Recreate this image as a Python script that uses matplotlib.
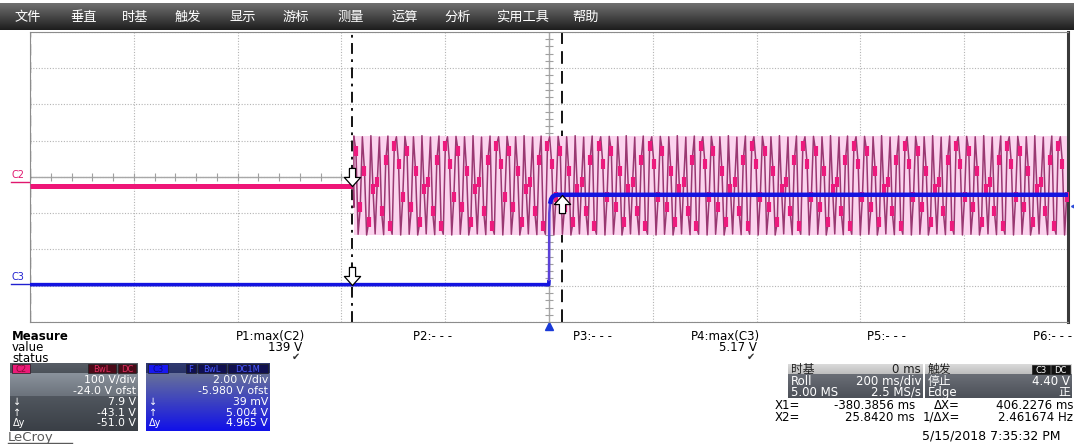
import numpy as np
import matplotlib.pyplot as plt
from matplotlib import transforms
from matplotlib.colors import LinearSegmentedColormap
from matplotlib.patches import Rectangle

plt.rcParams['font.family'] = ['DejaVu Sans', 'Noto Sans CJK SC']

# ---- data ----
menu_items = ['文件', '垂直', '时基', '触发', '显示', '游标', '测量', '运算', '分析', '实用工具', '帮助']

# time in ms (200 ms/div, trigger at centre)
x1_ms = -380.3856
x2_ms = 25.8420

# C2: 100 V/div, -24 V offset
c2_scale = 100.0
c2_ofst = -24.0
c2_flat_t = [-1000, -377]
c2_flat_v = [0, 0]
c2_burst_t0 = -376.0
c2_period_ms = 16.4
# 4 samples per cycle, 6 cycles (top, falling, bottom, rising)
c2_pattern = [136, 95, -134, -60,
              135, 40, -136, -100,
              138, -10, -133, 10,
              134, -70, -135, 70,
              137, -110, -134, 110,
              135, 60, -136, -30]

# C3: 2 V/div, -5.98 V offset
c3_scale = 2.0
c3_ofst = -5.98
c3_t = [-1000, -0.5, 0.0, 0.6, 2.0, 4.0, 7.0, 11.0, 18.0, 1000]
c3_v = [0.04, 0.04, 0.3, 4.0, 4.5, 4.75, 4.9, 4.97, 5.0, 5.0]
trig_level = 4.40

fig = plt.figure(figsize=(10.74, 4.44), dpi=100)

# background layer in pixel coordinates
bg = fig.add_axes([0, 0, 1, 1])
bg.axis('off')
menu_cmap = LinearSegmentedColormap.from_list('menu', ['#707070', '#1e1e1e'])
bg.imshow(np.linspace(0, 1, 40).reshape(-1, 1), extent=(0, 1074, 30, 3),
          cmap=menu_cmap, aspect='auto')
menu_x = [15, 70, 122, 175, 230, 283, 337, 392, 444, 496, 572]
for lbl, mx in zip(menu_items, menu_x):
    bg.text(mx, 17, lbl, color='white', fontsize=9.5, va='center', ha='left')

# ---- graticule + traces ----
ax = fig.add_axes([30 / 1074, 1 - 322 / 444, 1038 / 1074, 290 / 444])
ax.set_xlim(-1000, 1000)
c2_lo, c2_hi = -4 * c2_scale - c2_ofst, 4 * c2_scale - c2_ofst
ax.set_ylim(c2_lo, c2_hi)
ax.set_xticks(np.arange(-1000, 1001, 200))
ax.set_yticks(np.arange(-4, 5) * c2_scale - c2_ofst)
ax.tick_params(length=0, labelbottom=False, labelleft=False)
ax.grid(True, ls=(0, (1, 1.5)), color='#b4b4b4', lw=0.8)
for s in ['top', 'bottom', 'left']:
    ax.spines[s].set_color('#8c8c8c')
ax.spines['right'].set_color('#3a3a3a')
ax.spines['right'].set_linewidth(2.2)

# centre lines with minor ticks
ax.axvline(0, color='#a8a8a8', lw=1.0)
ax.axhline(-c2_ofst, color='#a8a8a8', lw=1.0)
ax.plot(np.zeros(41), np.arange(-20, 21) * c2_scale / 5 - c2_ofst, ls='none',
        marker='_', ms=6, color='#a0a0a0', mew=0.8)
ax.plot(np.arange(-25, 26) * 40, np.full(51, -c2_ofst), ls='none',
        marker='|', ms=6, color='#a0a0a0', mew=0.8)

# left edge dashed, cursors
ax.axvline(-1000, color='black', lw=1.6, ls=(0, (5, 3)))
ax.axvline(x1_ms, color='black', lw=1.3, ls=(0, (6, 3, 1.5, 3)))
ax.axvline(x2_ms, color='black', lw=1.3, ls=(0, (7, 4)))

# C2 trace
n_cyc = 44
burst_v = np.tile(c2_pattern, n_cyc)
burst_t = c2_burst_t0 + np.arange(len(burst_v)) * c2_period_ms / 4
keep = burst_t <= 1000
burst_t, burst_v = burst_t[keep], burst_v[keep]
ax.fill_between([c2_burst_t0, 1000], min(c2_pattern), max(c2_pattern),
                color='#fbd4ee', lw=0, zorder=2)
ax.plot(c2_flat_t, c2_flat_v, color='#ee1577', lw=3.6, zorder=3,
        solid_capstyle='butt')
ax.plot([c2_flat_t[-1], c2_burst_t0, burst_t[0]], [0, -60, burst_v[0]],
        color='#9a3872', lw=1.0, zorder=3)
ax.plot(burst_t, burst_v, color='#9a3872', lw=1.1, zorder=3)
ax.plot(burst_t[1::2], burst_v[1::2], ls='none', marker='|', ms=7, mew=3,
        color='#ec1a7d', zorder=4)

# C3 trace
ax3 = ax.twinx()
ax3.set_ylim(-4 * c3_scale - c3_ofst, 4 * c3_scale - c3_ofst)
ax3.axis('off')
ax3.plot(c3_t[:3], c3_v[:3], color='#1414e0', lw=2.6, solid_capstyle='butt')
ax3.plot(c3_t[2:5], c3_v[2:5], color='#5a40d8', lw=1.8)
ax3.plot(c3_t[4:], c3_v[4:], color='#1414e0', lw=3.2, solid_capstyle='butt')

# cursor marker icons
down_arrow = [(-0.17, 1.0), (0.17, 1.0), (0.17, 0.5), (0.45, 0.5), (0, 0),
              (-0.45, 0.5), (-0.17, 0.5), (-0.17, 1.0)]
up_arrow = [(x, -y) for x, y in down_arrow]
ax.plot([x1_ms], [0], marker=down_arrow, ms=26, mfc='white', mec='black',
        mew=0.9, zorder=6)
ax3.plot([x1_ms], [0.04], marker=down_arrow, ms=26, mfc='white', mec='black',
         mew=0.9, zorder=6)
ax3.plot([x2_ms], [5.0], marker=up_arrow, ms=26, mfc='white', mec='black',
         mew=0.9, zorder=6)

# trigger position / level markers
tr = transforms.blended_transform_factory(ax.transData, ax.transAxes)
ax.plot([0], [-0.015], marker='^', ms=6, color='#1a3ad8', transform=tr,
        clip_on=False)
tr3 = transforms.blended_transform_factory(ax.transAxes, ax3.transData)
ax3.plot([1.006], [trig_level], marker='<', ms=4, color='#2a4ad8',
         transform=tr3, clip_on=False)

# channel labels
bg.text(12, 180, 'C2', color='#e0176e', fontsize=7, va='bottom')
bg.plot([11, 30], [182, 182], color='#e0176e', lw=1)
bg.text(12, 282, 'C3', color='#2020d0', fontsize=7, va='bottom')
bg.plot([11, 30], [284, 284], color='#2020d0', lw=1)

# ---- measurement table ----
fs = 8.5
bg.text(12, 336, 'Measure', fontsize=fs, weight='bold', va='center')
bg.text(12, 347, 'value', fontsize=fs, va='center')
bg.text(12, 358, 'status', fontsize=fs, va='center')
meas_lbl = ['P1:max(C2)', 'P2:- - -', 'P3:- - -', 'P4:max(C3)', 'P5:- - -', 'P6:- - -']
meas_val = ['139 V', '', '', '5.17 V', '', '']
meas_x = [305, 452, 612, 760, 906, 1072]
for lbl, val, mx in zip(meas_lbl, meas_val, meas_x):
    bg.text(mx, 336, lbl, fontsize=fs, ha='right', va='center')
    if val:
        bg.text(mx - 3, 347, val, fontsize=fs, ha='right', va='center')
        bg.text(mx - 5, 357, '✔', fontsize=7, ha='right', va='center',
                color='#303030')


def grad_box(x0, x1, y0, y1, c_top, c_bot):
    cm = LinearSegmentedColormap.from_list('g', [c_top, c_bot])
    bg.imshow(np.linspace(0, 1, 30).reshape(-1, 1), extent=(x0, x1, y1, y0),
              cmap=cm, aspect='auto', zorder=1)


def tag(x0, x1, y0, y1, fc, txt, tc):
    bg.add_patch(Rectangle((x0, y0), x1 - x0, y1 - y0, fc=fc, ec='#202020',
                           lw=0.5, zorder=2))
    bg.text((x0 + x1) / 2, (y0 + y1) / 2 + 0.5, txt, color=tc, fontsize=6,
            ha='center', va='center', zorder=3)


# C2 box
grad_box(10, 138, 363, 374, '#585e66', '#4a5058')
grad_box(10, 138, 374, 396, '#8a929c', '#6c737c')
grad_box(10, 138, 396, 431, '#50565e', '#3a3f46')
tag(12, 30, 364, 373, '#ec1a78', 'C2', '#8a0836')
tag(88, 116, 364, 373, '#4a0a18', 'BwL', '#e03060')
tag(118, 136, 364, 373, '#4a0a18', 'DC', '#e03060')
# C3 box
grad_box(146, 270, 363, 374, '#303a70', '#283266')
grad_box(146, 270, 374, 431, '#66709a', '#1212e8')
tag(148, 168, 364, 373, '#1818f0', 'C3', '#0a0a80')
tag(186, 196, 364, 373, '#101050', 'F', '#4a5aff')
tag(198, 226, 364, 373, '#101050', 'BwL', '#4a5aff')
tag(228, 268, 364, 373, '#101050', 'DC1M', '#4a5aff')

c2_rows = ['100 V/div', '-24.0 V ofst', '7.9 V', '-43.1 V', '-51.0 V']
c3_rows = ['2.00 V/div', '-5.980 V ofst', '39 mV', '5.004 V', '4.965 V']
row_y = [380, 390.5, 402, 412.5, 423]
row_sym = ['', '', '↓', '↑', 'Δy']
for bx0, bx1, rows in [(10, 138, c2_rows), (146, 270, c3_rows)]:
    for r, yy, sym in zip(rows, row_y, row_sym):
        bg.text(bx1 - 2, yy, r, color='white', fontsize=7.8, ha='right',
                va='center', zorder=3)
        if sym:
            bg.text(bx0 + 3, yy, sym, color='white', fontsize=7, ha='left',
                    va='center', zorder=3)

# timebase / trigger boxes
grad_box(788, 923, 364, 375, '#dadada', '#bcbcbc')
grad_box(788, 923, 375, 398, '#6a6e76', '#4c5058')
grad_box(925, 1072, 364, 375, '#dadada', '#bcbcbc')
grad_box(925, 1072, 375, 398, '#6a6e76', '#4c5058')
bfs = 8.5
bg.text(791, 369.5, '时基', fontsize=bfs, va='center', color='#202020', zorder=3)
bg.text(921, 369.5, '0 ms', fontsize=bfs, va='center', ha='right', color='#202020', zorder=3)
bg.text(791, 381, 'Roll', fontsize=bfs, va='center', color='white', zorder=3)
bg.text(921, 381, '200 ms/div', fontsize=bfs, va='center', ha='right', color='white', zorder=3)
bg.text(791, 392, '5.00 MS', fontsize=bfs, va='center', color='white', zorder=3)
bg.text(921, 392, '2.5 MS/s', fontsize=bfs, va='center', ha='right', color='white', zorder=3)
bg.text(928, 369.5, '触发', fontsize=bfs, va='center', color='#202020', zorder=3)
tag(1032, 1050, 365, 374, '#111111', 'C3', 'white')
tag(1051, 1070, 365, 374, '#111111', 'DC', 'white')
bg.text(928, 381, '停止', fontsize=bfs, va='center', color='white', zorder=3)
bg.text(1070, 381, '4.40 V', fontsize=bfs, va='center', ha='right', color='white', zorder=3)
bg.text(928, 392, 'Edge', fontsize=bfs, va='center', color='white', zorder=3)
bg.text(1070, 392, '正', fontsize=bfs, va='center', ha='right', color='white', zorder=3)

# cursor readouts
cfs = 8.5
bg.text(775, 405, 'X1=', fontsize=cfs, va='center')
bg.text(915, 405, '-380.3856 ms', fontsize=cfs, va='center', ha='right')
bg.text(960, 405, 'ΔX=', fontsize=cfs, va='center', ha='right')
bg.text(1073, 405, '406.2276 ms', fontsize=cfs, va='center', ha='right')
bg.text(775, 417, 'X2=', fontsize=cfs, va='center')
bg.text(915, 417, '25.8420 ms', fontsize=cfs, va='center', ha='right')
bg.text(960, 417, '1/ΔX=', fontsize=cfs, va='center', ha='right')
bg.text(1073, 417, '2.461674 Hz', fontsize=cfs, va='center', ha='right')

bg.text(1060, 436, '5/15/2018 7:35:32 PM', fontsize=9, va='center', ha='right')
bg.text(8, 441, 'LeCroy', fontsize=9.5, va='baseline', color='#5a5a5a')
bg.plot([8, 72], [443, 443], color='#5a5a5a', lw=1)

bg.set_xlim(0, 1074)
bg.set_ylim(444, 0)

fig.savefig('out.png', dpi=100)
